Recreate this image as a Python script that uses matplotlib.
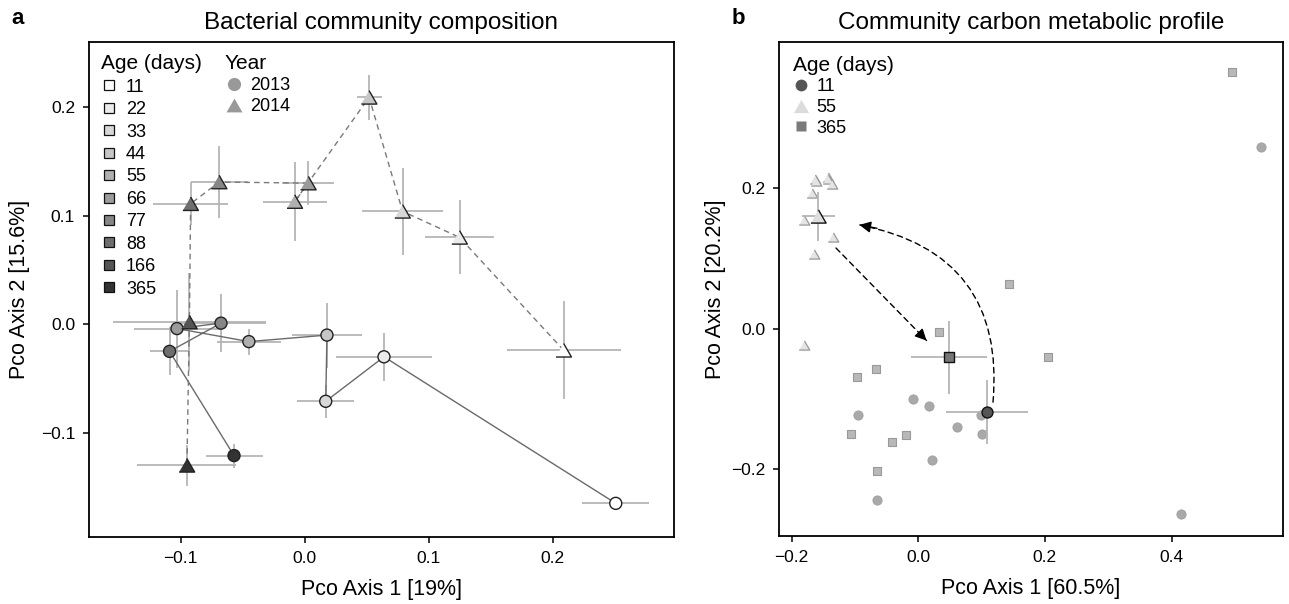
import matplotlib
matplotlib.use("Agg")
import numpy as np
import matplotlib.pyplot as plt
from matplotlib.lines import Line2D
from matplotlib.patches import FancyArrowPatch

plt.rcParams['font.family'] = ['Liberation Sans', 'DejaVu Sans']
plt.rcParams['axes.unicode_minus'] = True

# age classes and their grey fills
ages = ['11', '22', '33', '44', '55', '66', '77', '88', '166', '365']
age_greys = ['#ffffff', '#ebebeb', '#d8d8d8', '#c6c6c6', '#b0b0b0',
             '#9b9b9b', '#868686', '#6e6e6e', '#555555', '#333333']

# panel a: 2013 (circles, solid path)
y13_age = ['11', '22', '33', '44', '55', '66', '77', '88', '365']
y13_x = [0.251, 0.064, 0.017, 0.018, -0.045, -0.103, -0.0675, -0.109, -0.057]
y13_y = [-0.165, -0.030, -0.071, -0.010, -0.016, -0.004, 0.001, -0.025, -0.121]
y13_xerr = [0.027, 0.039, 0.023, 0.028, 0.026, 0.035, 0.036, 0.016, 0.023]
y13_yerr = [0.004, 0.022, 0.015, 0.030, 0.012, 0.036, 0.027, 0.022, 0.011]

# panel a: 2014 (triangles, dashed path)
y14_age = ['11', '22', '33', '44', '55', '66', '77', '88', '166', '365']
y14_x = [0.209, 0.125, 0.079, 0.052, -0.008, 0.003, -0.069, -0.092, -0.093, -0.095]
y14_y = [-0.024, 0.080, 0.104, 0.209, 0.113, 0.130, 0.131, 0.111, 0.002, -0.130]
y14_xerr = [0.046, 0.028, 0.033, 0.010, 0.026, 0.021, 0.023, 0.030, 0.062, 0.040]
y14_yerr = [0.045, 0.034, 0.040, 0.021, 0.036, 0.020, 0.033, 0.020, 0.045, 0.019]

# panel b: single samples
b11_x = [-0.009, 0.017, -0.095, 0.061, 0.099, 0.101, 0.022, -0.065, 0.542, 0.415]
b11_y = [-0.101, -0.110, -0.124, -0.141, -0.124, -0.151, -0.188, -0.245, 0.259, -0.265]
b55_x = [-0.163, -0.142, -0.161, -0.143, -0.137, -0.168, -0.180, -0.135, -0.165, -0.181]
b55_y = [0.214, 0.217, 0.211, 0.213, 0.206, 0.193, 0.155, 0.131, 0.107, -0.024]
b365_x = [0.144, 0.033, 0.205, -0.067, -0.097, -0.107, -0.042, -0.020, -0.066, 0.496]
b365_y = [0.064, -0.005, -0.041, -0.058, -0.069, -0.150, -0.162, -0.152, -0.203, 0.366]

# panel b: group means (11, 55, 365)
bm_x = [0.109, -0.158, 0.048]
bm_y = [-0.119, 0.160, -0.041]
bm_xerr = [0.065, 0.026, 0.060]
bm_yerr = [0.045, 0.035, 0.052]

grey_of = dict(zip(ages, age_greys))
tri = [(-1, -0.866), (1, -0.866), (0, 0.866)]
err_col = '#b5b5b5'

fig = plt.figure(figsize=(12.89, 6.04), dpi=100)
ax = fig.add_axes([89 / 1289, 67 / 604, 585 / 1289, 495 / 604])
bx = fig.add_axes([779 / 1289, 68 / 604, 504 / 1289, 494 / 604])

for a in (ax, bx):
    for s in a.spines.values():
        s.set_linewidth(1.3)
    a.tick_params(direction='out', length=4, width=1.1, labelsize=12.5, pad=6)

# ---- panel a
ax.errorbar(y13_x, y13_y, xerr=y13_xerr, yerr=y13_yerr, fmt='none',
            ecolor=err_col, elinewidth=1.3, capsize=0, zorder=1)
ax.errorbar(y14_x, y14_y, xerr=y14_xerr, yerr=y14_yerr, fmt='none',
            ecolor=err_col, elinewidth=1.3, capsize=0, zorder=1)
ax.plot(y13_x, y13_y, color='#6a6a6a', lw=1.0, zorder=2)
ax.plot(y14_x, y14_y, color='#7a7a7a', lw=1.0, ls=(0, (4, 3)), zorder=2)
ax.scatter(y13_x, y13_y, s=75, marker='o', c=[grey_of[a] for a in y13_age],
           edgecolors='#222222', linewidths=1.0, zorder=3)
ax.scatter(y14_x, y14_y, s=125, marker=tri, c=[grey_of[a] for a in y14_age],
           edgecolors='#222222', linewidths=1.0, zorder=3)

ax.set_xlim(-0.174, 0.298)
ax.set_ylim(-0.196, 0.260)
ax.set_xticks([-0.1, 0.0, 0.1, 0.2])
ax.set_yticks([-0.1, 0.0, 0.1, 0.2])
ax.set_xticklabels(['\u22120.1', '0.0', '0.1', '0.2'])
ax.set_yticklabels(['\u22120.1', '0.0', '0.1', '0.2'])
ax.set_xlabel('Pco Axis 1 [19%]', fontsize=15.5)
ax.set_ylabel('Pco Axis 2 [15.6%]', fontsize=15.5)
ax.xaxis.set_label_coords(0.5, -0.085)
ax.yaxis.set_label_coords(-0.100, 0.5)
ax.set_title('Bacterial community composition', fontsize=17.5, pad=9)

age_handles = [Line2D([], [], ls='none', marker='s', markersize=7.5,
                      markerfacecolor=c, markeredgecolor='#111111',
                      markeredgewidth=0.9, label=a)
               for a, c in zip(ages, age_greys)]
leg1 = ax.legend(handles=age_handles, title='Age (days)', loc='upper left',
                 bbox_to_anchor=(0.02, 0.975), frameon=False, fontsize=13,
                 title_fontsize=15, alignment='left', handlelength=0.9,
                 handletextpad=0.5, labelspacing=0.30, borderpad=0,
                 borderaxespad=0)
ax.add_artist(leg1)
year_handles = [Line2D([], [], ls='none', marker='o', markersize=9.5,
                       markerfacecolor='#999999', markeredgecolor='none', label='2013'),
                Line2D([], [], ls='none', marker=tri, markersize=11.5,
                       markerfacecolor='#999999', markeredgecolor='none', label='2014')]
ax.legend(handles=year_handles, title='Year', loc='upper left',
          bbox_to_anchor=(0.232, 0.975), frameon=False, fontsize=13,
          title_fontsize=15, alignment='left', handlelength=1.0,
          handletextpad=0.4, labelspacing=0.22, borderpad=0, borderaxespad=0)

# ---- panel b
bx.scatter(b11_x, b11_y, s=44, marker='o', c='#a9a9a9', edgecolors='#9e9e9e',
           linewidths=0.6, zorder=2)
bx.scatter(b365_x, b365_y, s=34, marker='s', c='#b8b8b8', edgecolors='#999999',
           linewidths=0.8, zorder=2)
bx.scatter(b55_x, b55_y, s=58, marker=tri, c='#e4e4e4', edgecolors='#999999',
           linewidths=0.9, zorder=2)
bx.errorbar(bm_x, bm_y, xerr=bm_xerr, yerr=bm_yerr, fmt='none',
            ecolor=err_col, elinewidth=1.3, capsize=0, zorder=3)
bx.scatter(bm_x[0], bm_y[0], s=62, marker='o', c='#555555',
           edgecolors='#111111', linewidths=1.0, zorder=4)
bx.scatter(bm_x[1], bm_y[1], s=120, marker=tri, c='#dddddd',
           edgecolors='#111111', linewidths=1.0, zorder=4)
bx.scatter(bm_x[2], bm_y[2], s=55, marker='s', c='#777777',
           edgecolors='#111111', linewidths=1.0, zorder=4)

bx.set_xlim(-0.220, 0.576)
bx.set_ylim(-0.296, 0.409)
bx.set_xticks([-0.2, 0.0, 0.2, 0.4])
bx.set_yticks([-0.2, 0.0, 0.2])
bx.set_xticklabels(['\u22120.2', '0.0', '0.2', '0.4'])
bx.set_yticklabels(['\u22120.2', '0.0', '0.2'])
bx.set_xlabel('Pco Axis 1 [60.5%]', fontsize=15.5)
bx.set_ylabel('Pco Axis 2 [20.2%]', fontsize=15.5)
bx.xaxis.set_label_coords(0.5, -0.085)
bx.yaxis.set_label_coords(-0.105, 0.5)
bx.set_title('Community carbon metabolic profile', fontsize=17.5, pad=9)


def dashed_arrow(axis, start, end, rad):
    # dashed curved body, solid head placed along the end tangent
    axis.add_patch(FancyArrowPatch(start, end, connectionstyle=f'arc3,rad={rad}',
                                   arrowstyle='-', color='black', lw=1.0,
                                   linestyle=(0, (4, 3)), zorder=5,
                                   shrinkA=0, shrinkB=0))
    sd = axis.transData.transform(start)
    ed = axis.transData.transform(end)
    mid = (sd + ed) / 2
    d = ed - sd
    ctrl = axis.transData.inverted().transform(mid + rad * np.array([d[1], -d[0]]))
    tail = np.asarray(end) - 0.12 * (np.asarray(end) - ctrl)
    axis.add_patch(FancyArrowPatch(tail, end, arrowstyle='-|>', mutation_scale=17,
                                   color='black', lw=1.0, zorder=6,
                                   shrinkA=0, shrinkB=0))


dashed_arrow(bx, (0.118, -0.105), (-0.093, 0.148), 0.45)
dashed_arrow(bx, (-0.130, 0.115), (0.013, -0.017), 0.0)

b_handles = [Line2D([], [], ls='none', marker='o', markersize=8.5,
                    markerfacecolor='#555555', markeredgecolor='none', label='11'),
             Line2D([], [], ls='none', marker=tri, markersize=11,
                    markerfacecolor='#dcdcdc', markeredgecolor='none', label='55'),
             Line2D([], [], ls='none', marker='s', markersize=7,
                    markerfacecolor='#7a7a7a', markeredgecolor='none', label='365')]
bx.legend(handles=b_handles, title='Age (days)', loc='upper left',
          bbox_to_anchor=(0.028, 0.972), frameon=False, fontsize=13,
          title_fontsize=15, alignment='left', handlelength=0.9,
          handletextpad=0.4, labelspacing=0.2, borderpad=0, borderaxespad=0)

fig.text(18 / 1289, 1 - 18 / 604, 'a', fontsize=16, fontweight='bold',
         ha='center', va='center')
fig.text(738 / 1289, 1 - 18 / 604, 'b', fontsize=16, fontweight='bold',
         ha='center', va='center')

fig.savefig('out.png', dpi=100)
